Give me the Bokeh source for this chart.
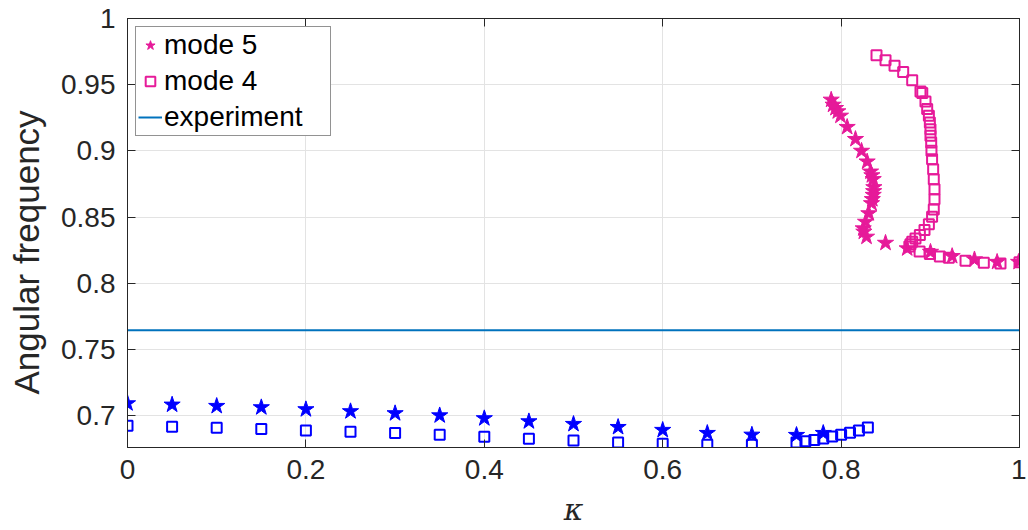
from bokeh.plotting import figure
from bokeh.models import Range1d, FixedTicker, CustomJSTickFormatter, LinearAxis, Legend, LegendItem
from bokeh.embed import file_html
from bokeh.resources import INLINE

# ---- data ----
x_ticks = [0, 0.2, 0.4, 0.6, 0.8, 1]
y_ticks = [0.7, 0.75, 0.8, 0.85, 0.9, 0.95, 1]

experiment_y = 0.7645

# mode 5, blue branch (stars)
blue5_x = [0.0, 0.05, 0.10, 0.15, 0.20, 0.25, 0.30, 0.35, 0.40, 0.45, 0.50, 0.55, 0.60, 0.65, 0.70, 0.75, 0.78]
blue5_y = [0.7093, 0.7083, 0.7073, 0.7063, 0.7048, 0.7033, 0.7018, 0.7002, 0.6980, 0.6957, 0.6937, 0.6914, 0.6892, 0.6869, 0.6856, 0.6854, 0.6869]

# mode 4, blue branch (squares)
blue4_x = [0.0, 0.05, 0.10, 0.15, 0.20, 0.25, 0.30, 0.35, 0.40, 0.45, 0.50, 0.55, 0.60, 0.65, 0.70,
           0.75, 0.76, 0.77, 0.78, 0.79, 0.80, 0.81, 0.82, 0.83]
blue4_y = [0.6924, 0.6917, 0.6909, 0.6899, 0.6889, 0.6879, 0.6869, 0.6856, 0.6841, 0.6826, 0.6813, 0.6798, 0.6788, 0.6781, 0.6781,
           0.6798, 0.6808, 0.6816, 0.6828, 0.6843, 0.6856, 0.6871, 0.6889, 0.6911]

# mode 5, magenta branch (stars)
mag5_x = [0.7889, 0.7910, 0.7937, 0.7963, 0.7993, 0.8068, 0.8161, 0.8229, 0.8292, 0.8330, 0.8345, 0.8360,
          0.8367, 0.8365, 0.8360, 0.8350, 0.8341, 0.8311, 0.8274, 0.8248, 0.8255, 0.8285, 0.8498, 0.8741,
          0.9002, 0.9245, 0.9495, 0.9749, 0.9990]
mag5_y = [0.9386, 0.9348, 0.9323, 0.9298, 0.9265, 0.9180, 0.9089, 0.9000, 0.8919, 0.8843, 0.8815, 0.8786,
          0.8725, 0.8695, 0.8667, 0.8635, 0.8604, 0.8528, 0.8464, 0.8414, 0.8389, 0.8351, 0.8305, 0.8263,
          0.8237, 0.8205, 0.8180, 0.8161, 0.8161]

# mode 4, magenta branch (squares)
mag4_x = [0.8397, 0.8498, 0.8599, 0.8696, 0.8797, 0.8890, 0.8910, 0.8946, 0.8965, 0.8984, 0.8995, 0.9002,
          0.9002, 0.9010, 0.9013, 0.9020, 0.9032, 0.9039, 0.9047, 0.9047, 0.9039, 0.9020, 0.8984, 0.8935,
          0.8883, 0.8834, 0.8797, 0.8778, 0.8765, 0.8880, 0.8995, 0.9107, 0.9208, 0.9395, 0.9600, 0.9787, 1.0]
mag4_y = [0.9722, 0.9684, 0.9644, 0.9596, 0.9533, 0.9449, 0.9437, 0.9374, 0.9316, 0.9265, 0.9215, 0.9164,
          0.9114, 0.9063, 0.9002, 0.8937, 0.8861, 0.8786, 0.8710, 0.8634, 0.8558, 0.8502, 0.8447, 0.8402,
          0.8364, 0.8339, 0.8313, 0.8295, 0.8278, 0.8240, 0.8222, 0.8203, 0.8193, 0.8171, 0.8156, 0.8149, 0.8159]

MAG = "#E61A99"
BLUE = "#0000FF"
EXP = "#0072BD"
AX = "#262626"
FONT = "Liberation Sans"

p = figure(width=1026, height=530, output_backend="svg", toolbar_location=None,
           x_range=Range1d(0, 1), y_range=Range1d(0.676, 1),
           min_border_left=127, min_border_right=7, min_border_top=18, min_border_bottom=83)
p.background_fill_color = "white"
p.border_fill_color = "white"
p.outline_line_color = AX
p.outline_line_width = 1

fmt = CustomJSTickFormatter(code="return String(Math.round(tick*100)/100);")

p.xaxis.ticker = FixedTicker(ticks=x_ticks)
p.yaxis.ticker = FixedTicker(ticks=y_ticks)
p.xaxis.formatter = fmt
p.yaxis.formatter = fmt
for ax in (p.xaxis[0], p.yaxis[0]):
    ax.major_tick_in = 8
    ax.major_tick_out = 0
    ax.minor_tick_line_color = None
    ax.axis_line_color = AX
    ax.major_tick_line_color = AX
    ax.major_label_text_font = FONT
    ax.major_label_text_font_size = "28px"
    ax.major_label_text_color = AX
    ax.axis_label_text_font = FONT
    ax.axis_label_text_color = AX
    ax.axis_label_text_font_style = "normal"

p.xaxis.major_label_standoff = 12
p.yaxis.major_label_standoff = 12
p.xaxis.axis_label = "κ"
p.xaxis.axis_label_text_font_style = "italic"
p.xaxis.axis_label_text_font = "DejaVu Serif"
p.xaxis.axis_label_text_font_size = "30px"
p.xaxis.axis_label_standoff = 10
p.yaxis.axis_label = "Angular frequency\u00a0\u00a0\u00a0\u00a0"
p.yaxis.axis_label_text_font_size = "35px"
p.yaxis.axis_label_standoff = 12

# inward ticks on top and right (box)
top = LinearAxis(ticker=FixedTicker(ticks=x_ticks), major_label_text_font_size="0px",
                 major_tick_in=8, major_tick_out=0, minor_tick_line_color=None,
                 axis_line_color=AX, major_tick_line_color=AX, major_label_standoff=0)
right = LinearAxis(ticker=FixedTicker(ticks=y_ticks), major_label_text_font_size="0px",
                   major_tick_in=8, major_tick_out=0, minor_tick_line_color=None,
                   axis_line_color=AX, major_tick_line_color=AX, major_label_standoff=0)
p.add_layout(top, "above")
p.add_layout(right, "right")

p.xgrid.grid_line_color = "#e3e3e3"
p.ygrid.grid_line_color = "#e3e3e3"
p.xgrid.ticker = FixedTicker(ticks=x_ticks)
p.ygrid.ticker = FixedTicker(ticks=y_ticks)

exp_line = p.line(x=[0, 1], y=[experiment_y, experiment_y], line_color=EXP, line_width=2)

m5b = p.scatter(blue5_x, blue5_y, marker="star", size=17, fill_color=BLUE, line_color=BLUE, line_width=1)
m4b = p.scatter(blue4_x, blue4_y, marker="square", size=10, fill_color=None, line_color=BLUE, line_width=2)
m5 = p.scatter(mag5_x, mag5_y, marker="star", size=17, fill_color=MAG, line_color=MAG, line_width=1)
m4 = p.scatter(mag4_x, mag4_y, marker="square", size=10, fill_color=None, line_color=MAG, line_width=2)

legend = Legend(items=[
    LegendItem(label="mode 5", renderers=[m5]),
    LegendItem(label="mode 4", renderers=[m4]),
    LegendItem(label="experiment", renderers=[exp_line]),
], location="top_left")
legend.label_text_font = FONT
legend.label_text_font_size = "28px"
legend.label_text_color = "black"
legend.border_line_color = AX
legend.border_line_width = 1
legend.background_fill_alpha = 1
legend.glyph_width = 24
legend.glyph_height = 30
legend.label_standoff = 2
legend.label_width = 164
legend.spacing = 4
legend.padding = 2
legend.margin = 8
p.add_layout(legend)

open("out.html", "w").write(file_html(p, INLINE))
